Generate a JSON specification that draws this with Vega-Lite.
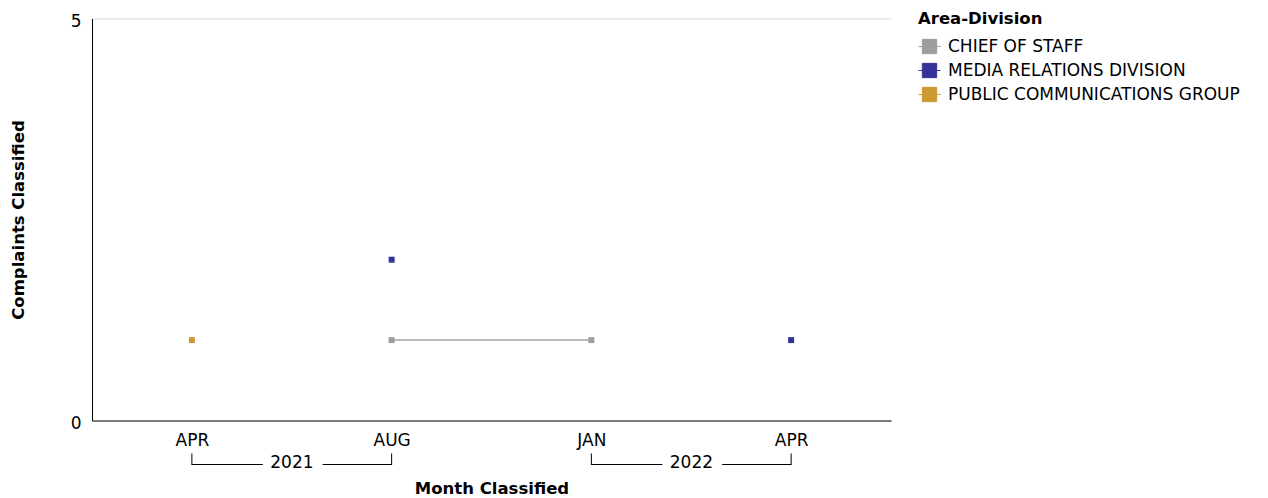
{
  "$schema": "https://vega.github.io/schema/vega-lite/v6.json",
  "width": 799,
  "height": 402,
  "padding": {"left": 10, "top": 10.5, "right": 5, "bottom": 5},
  "config": {
    "font": "DejaVu Sans",
    "view": {"stroke": null},
    "axis": {"labelFont": "DejaVu Sans", "titleFont": "DejaVu Sans", "labelColor": "#000", "titleColor": "#000"},
    "legend": {"labelFont": "DejaVu Sans", "titleFont": "DejaVu Sans"}
  },
  "datasets": {
    "counts": [
      {"period": "APR 2021", "division": "PUBLIC COMMUNICATIONS GROUP", "complaints": 1},
      {"period": "AUG 2021", "division": "MEDIA RELATIONS DIVISION", "complaints": 2},
      {"period": "AUG 2021", "division": "CHIEF OF STAFF", "complaints": 1},
      {"period": "JAN 2022", "division": "CHIEF OF STAFF", "complaints": 1},
      {"period": "JAN 2022", "division": "MEDIA RELATIONS DIVISION", "complaints": null},
      {"period": "APR 2022", "division": "MEDIA RELATIONS DIVISION", "complaints": 1}
    ],
    "years": [
      {"year": "2021", "start": "APR 2021", "end": "AUG 2021"},
      {"year": "2022", "start": "JAN 2022", "end": "APR 2022"}
    ]
  },
  "layer": [
    {
      "data": {"name": "counts"},
      "mark": {"type": "line", "strokeWidth": 2, "invalid": "break-paths-filter-domains", "opacity": 0.7},
      "encoding": {
        "x": {
          "field": "period", "type": "ordinal",
          "scale": {"type": "point", "padding": 0.5, "domain": ["APR 2021", "AUG 2021", "JAN 2022", "APR 2022"]},
          "axis": {
            "title": "Month Classified",
            "labelExpr": "split(datum.label, ' ')[0]",
            "labelAngle": 0,
            "labelFontSize": 17,
            "labelPadding": 12,
            "ticks": false,
            "domainColor": "#555",
            "domainWidth": 1.5,
            "titleFontSize": 16.5,
            "titleFontWeight": "bold",
            "titlePadding": 32,
            "grid": false
          }
        },
        "y": {
          "field": "complaints", "type": "quantitative",
          "scale": {"domain": [0, 5], "nice": false},
          "axis": {
            "title": "Complaints Classified",
            "values": [0, 5],
            "format": "d",
            "ticks": false,
            "labelFontSize": 17,
            "labelPadding": 11,
            "labelOffset": 3,
            "domainColor": "#000",
            "domainWidth": 1,
            "gridColor": "#d6d6d6",
            "titleFontSize": 16.5,
            "titleFontWeight": "bold",
            "titlePadding": 44
          }
        },
        "color": {
          "field": "division", "type": "nominal",
          "scale": {
            "domain": ["CHIEF OF STAFF", "MEDIA RELATIONS DIVISION", "PUBLIC COMMUNICATIONS GROUP"],
            "range": ["#9e9e9e", "#333399", "#cc9933"]
          },
          "legend": {
            "title": "Area-Division",
            "orient": "none",
            "legendX": 826,
            "legendY": -8,
            "titleFontSize": 16.5,
            "titleFontWeight": "bold",
            "titlePadding": 8,
            "labelFontSize": 17,
            "labelLimit": 500,
            "symbolType": "M-1,0H-0.65M0.65,0H1M-0.65,-0.65H0.65V0.65H-0.65Z",
            "symbolSize": 484,
            "symbolStrokeWidth": 1,
            "symbolOpacity": 1,
            "rowPadding": 3,
            "labelOffset": 7
          }
        }
      }
    },
    {
      "data": {"name": "counts"},
      "mark": {"type": "point", "shape": "square", "filled": true, "size": 36, "opacity": 1},
      "encoding": {
        "x": {"field": "period", "type": "ordinal"},
        "y": {"field": "complaints", "type": "quantitative"},
        "color": {"field": "division", "type": "nominal"}
      }
    },
    {
      "data": {"name": "years"},
      "mark": {"type": "rule", "color": "#000", "strokeWidth": 1, "x2Offset": 71},
      "encoding": {
        "x": {"field": "start", "type": "ordinal"},
        "x2": {"field": "start"},
        "y": {"value": 446}
      }
    },
    {
      "data": {"name": "years"},
      "mark": {"type": "rule", "color": "#000", "strokeWidth": 1, "xOffset": -69},
      "encoding": {
        "x": {"field": "end", "type": "ordinal"},
        "x2": {"field": "end"},
        "y": {"value": 446}
      }
    },
    {
      "data": {"name": "years"},
      "mark": {"type": "rule", "color": "#000", "strokeWidth": 1},
      "encoding": {
        "x": {"field": "start", "type": "ordinal"},
        "y": {"value": 435},
        "y2": {"value": 446.5}
      }
    },
    {
      "data": {"name": "years"},
      "mark": {"type": "rule", "color": "#000", "strokeWidth": 1},
      "encoding": {
        "x": {"field": "end", "type": "ordinal"},
        "y": {"value": 435},
        "y2": {"value": 446.5}
      }
    },
    {
      "data": {"name": "years"},
      "mark": {"type": "text", "fontSize": 17, "xOffset": 100, "baseline": "middle", "color": "#000"},
      "encoding": {
        "x": {"field": "start", "type": "ordinal"},
        "y": {"value": 444},
        "text": {"field": "year"}
      }
    }
  ]
}
